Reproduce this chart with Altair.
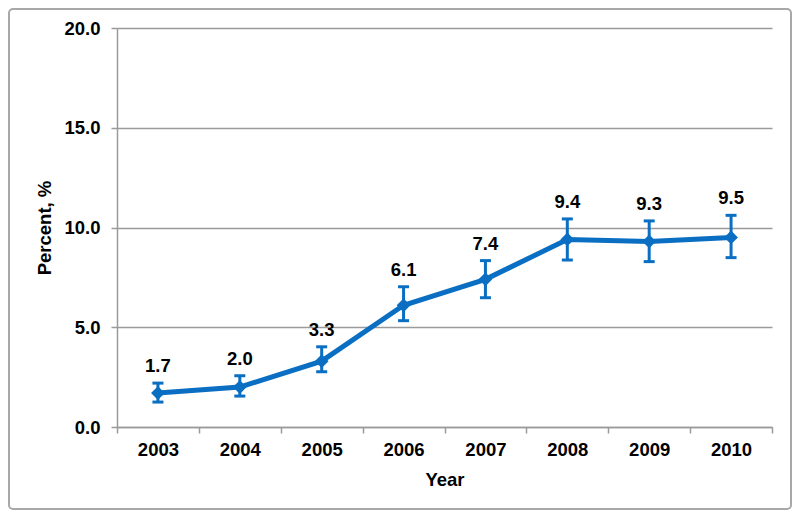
import altair as alt
import pandas as pd

years = ["2003", "2004", "2005", "2006", "2007", "2008", "2009", "2010"]
values = [1.7, 2.0, 3.3, 6.1, 7.4, 9.4, 9.3, 9.5]
lower = [1.25, 1.55, 2.77, 5.33, 6.48, 8.37, 8.29, 8.49]
upper = [2.2, 2.57, 4.02, 7.03, 8.34, 10.43, 10.33, 10.61]
y_ticks = [0, 5, 10, 15, 20]

df = pd.DataFrame({"Year": years, "Percent": values, "Lower": lower, "Upper": upper})

BLUE = "#0A6FC2"
GRID = "#9a9a9a"
FONT = "Liberation Sans"
FS = 18.5
W, H = 655, 399

x = alt.X(
    "Year:O",
    title="Year",
    scale=alt.Scale(type="band", paddingInner=0, paddingOuter=0),
    axis=alt.Axis(labelAngle=0, tickBand="extent", tickSize=6, labelPadding=7,
                  titlePadding=12, domainColor=GRID, tickColor=GRID,
                  domainWidth=1.5, tickWidth=1.5),
)
y = alt.Y(
    "Percent:Q",
    title="Percent, %",
    scale=alt.Scale(domain=[0, 20]),
    axis=alt.Axis(values=y_ticks, format=".1f", grid=True, gridColor=GRID,
                  gridWidth=1.5, tickSize=6, labelPadding=11, titlePadding=9,
                  domainColor=GRID, tickColor=GRID, domainWidth=1.5, tickWidth=1.5),
)

base = alt.Chart(df)

line = base.mark_line(color=BLUE, strokeWidth=5).encode(x=x, y=y)
pts = base.mark_point(shape="diamond", filled=True, size=190, color=BLUE, opacity=1).encode(x=x, y=y)
err = base.mark_rule(color=BLUE, strokeWidth=3).encode(x=x, y="Lower:Q", y2="Upper:Q")
cap_hi = base.mark_tick(color=BLUE, thickness=3, size=11, opacity=1).encode(x=x, y="Upper:Q")
cap_lo = base.mark_tick(color=BLUE, thickness=3, size=11, opacity=1).encode(x=x, y="Lower:Q")
labels = base.mark_text(dy=-17, baseline="middle", fontSize=FS, fontWeight="bold",
                        font=FONT, color="black").encode(
    x=x, y="Upper:Q", text=alt.Text("Percent:Q", format=".1f"))

frame = alt.Chart(alt.Data(values=[{}])).mark_rect(
    filled=False, stroke="#a8a8a8", strokeWidth=2, cornerRadius=4
).encode(x=alt.value(-108), x2=alt.value(W + 19), y=alt.value(-19), y2=alt.value(H + 82))

chart = alt.layer(line, err, cap_hi, cap_lo, pts, labels, frame).properties(
    width=W, height=H,
    autosize=alt.AutoSizeParams(type="none"),
    padding={"left": 109, "top": 20, "right": 20, "bottom": 84},
).configure_view(stroke=None).configure_axis(
    labelFont=FONT, titleFont=FONT, labelFontSize=FS, titleFontSize=FS,
    labelFontWeight="bold", titleFontWeight="bold", labelColor="black", titleColor="black",
)

chart.save("out.html", embed_options={"renderer": "svg", "actions": False})
